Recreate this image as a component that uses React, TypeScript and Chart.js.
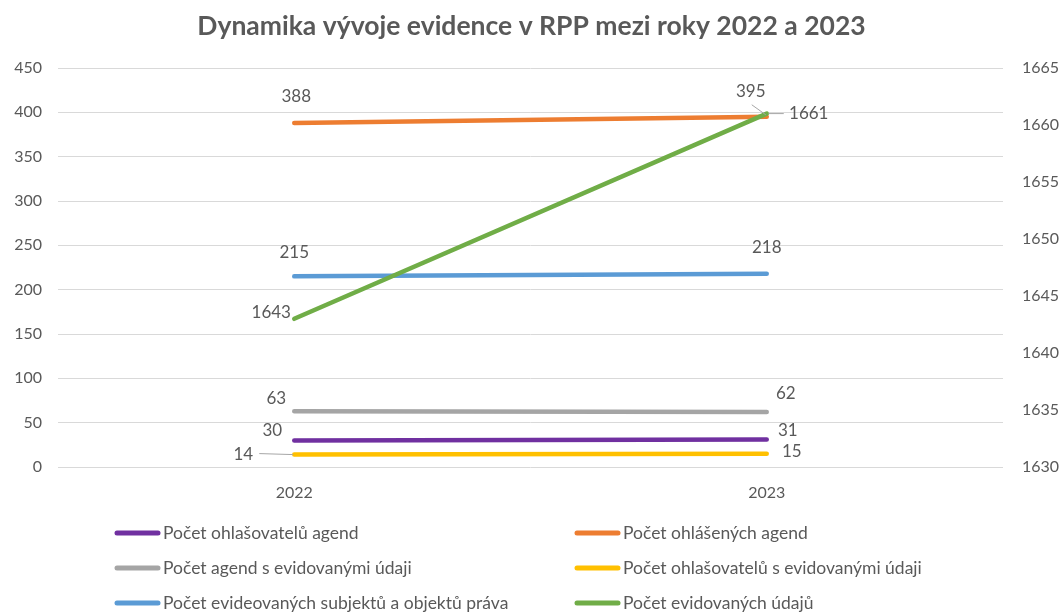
import React, { useEffect, useRef } from "react";
import { Chart, registerables } from "chart.js";

Chart.register(...registerables);

// ---------- data ----------
const categories = ["2022", "2023"];
const ohlasovateluAgend = [30, 31];
const ohlasenychAgend = [388, 395];
const agendSUdaji = [63, 62];
const ohlasovateluSUdaji = [14, 15];
const subjektuAObjektu = [215, 218];
const evidovanychUdaju = [1643, 1661];

const leftAxis = { min: 0, max: 450, step: 50 };
const rightAxis = { min: 1630, max: 1665, step: 5 };

const titleText = "Dynamika vývoje evidence v RPP mezi roky 2022 a 2023";

// ---------- styles ----------
const FONT = "Lato, 'Open Sans', sans-serif";
const TEXT = "#595959";

type LabelPos = { dx: number; dy: number; leader?: [number, number, number, number] };

const series = [
  { label: "Počet ohlašovatelů agend", data: ohlasovateluAgend, color: "#7030A0", axis: "y",
    labels: [{ dx: -22, dy: -10 }, { dx: 21, dy: -9 }] as LabelPos[] },
  { label: "Počet ohlášených agend", data: ohlasenychAgend, color: "#ED7D31", axis: "y",
    labels: [{ dx: 2, dy: -26 }, { dx: -16, dy: -25, leader: [-15, -12, -1, -2] }] as LabelPos[] },
  { label: "Počet agend s evidovanými údaji", data: agendSUdaji, color: "#A5A5A5", axis: "y",
    labels: [{ dx: -18, dy: -13 }, { dx: 19, dy: -19 }] as LabelPos[] },
  { label: "Počet ohlašovatelů s evidovanými údaji", data: ohlasovateluSUdaji, color: "#FFC000", axis: "y",
    labels: [{ dx: -51, dy: 0, leader: [-35, -1, -1, 0] }, { dx: 25, dy: -2 }] as LabelPos[] },
  { label: "Počet evideovaných subjektů a objektů práva", data: subjektuAObjektu, color: "#5B9BD5", axis: "y",
    labels: [{ dx: 0, dy: -24 }, { dx: 0, dy: -26 }] as LabelPos[] },
  { label: "Počet evidovaných údajů", data: evidovanychUdaju, color: "#70AD47", axis: "y1",
    labels: [{ dx: -23, dy: -6 }, { dx: 42, dy: 0, leader: [2, 0, 17, 0] }] as LabelPos[] },
];

// legend grid order: [row][col] -> series index
const legendGrid = [
  [0, 1],
  [2, 3],
  [4, 5],
];

const titlePlugin = {
  id: "customTitle",
  afterDraw(chart: any) {
    const ctx = chart.ctx;
    ctx.save();
    ctx.fillStyle = TEXT;
    ctx.font = `bold 26.5px ${FONT}`;
    ctx.textAlign = "center";
    ctx.textBaseline = "middle";
    ctx.fillText(titleText, chart.width / 2, 26);
    ctx.restore();
  },
};

const dataLabelPlugin = {
  id: "dataLabels",
  afterDatasetsDraw(chart: any) {
    const ctx = chart.ctx;
    ctx.save();
    ctx.font = `17px ${FONT}`;
    ctx.fillStyle = TEXT;
    ctx.textAlign = "center";
    ctx.textBaseline = "middle";
    chart.data.datasets.forEach((ds: any, di: number) => {
      const meta = chart.getDatasetMeta(di);
      meta.data.forEach((pt: any, i: number) => {
        const o = series[di].labels[i];
        if (o.leader) {
          ctx.beginPath();
          ctx.strokeStyle = "#A6A6A6";
          ctx.lineWidth = 1;
          ctx.moveTo(pt.x + o.leader[0], pt.y + o.leader[1]);
          ctx.lineTo(pt.x + o.leader[2], pt.y + o.leader[3]);
          ctx.stroke();
        }
        ctx.fillText(String(ds.data[i]), pt.x + o.dx, pt.y + o.dy);
      });
    });
    ctx.restore();
  },
};

const legendPlugin = {
  id: "gridLegend",
  afterDraw(chart: any) {
    const ctx = chart.ctx;
    const rowsY = [533, 568, 603];
    const colsX = [115, 575];
    const lineLen = 45;
    ctx.save();
    ctx.font = `17.5px ${FONT}`;
    ctx.textAlign = "left";
    ctx.textBaseline = "middle";
    legendGrid.forEach((row, r) => {
      row.forEach((si, c) => {
        const s = series[si];
        const x = colsX[c];
        const y = rowsY[r];
        ctx.beginPath();
        ctx.strokeStyle = s.color;
        ctx.lineWidth = 5;
        ctx.lineCap = "round";
        ctx.moveTo(x + 2, y);
        ctx.lineTo(x + lineLen - 2, y);
        ctx.stroke();
        ctx.fillStyle = TEXT;
        ctx.fillText(s.label, x + lineLen + 3, y);
      });
    });
    ctx.restore();
  },
};

export default function App() {
  const canvasRef = useRef<HTMLCanvasElement | null>(null);

  useEffect(() => {
    const canvas = canvasRef.current;
    if (!canvas) return;
    const chart = new Chart(canvas, {
      type: "line",
      data: {
        labels: categories,
        datasets: series.map((s) => ({
          label: s.label,
          data: s.data,
          borderColor: s.color,
          backgroundColor: s.color,
          borderWidth: 4.5,
          borderCapStyle: "round",
          borderJoinStyle: "round",
          pointRadius: 0,
          pointHoverRadius: 0,
          fill: false,
          tension: 0,
          yAxisID: s.axis,
          order: s.axis === "y1" ? 0 : 1,
        })),
      },
      options: {
        responsive: false,
        animation: false,
        events: [],
        layout: { padding: { top: 68, bottom: 105, left: 0, right: 0 } },
        plugins: {
          legend: { display: false },
          title: { display: false },
          tooltip: { enabled: false },
        },
        scales: {
          x: {
            type: "category",
            offset: true,
            grid: { display: false, drawTicks: false },
            border: { display: false },
            ticks: { color: TEXT, font: { family: FONT, size: 16 }, padding: 16 },
            afterFit: (scale: any) => { scale.height = 40; },
          },
          y: {
            position: "left",
            min: leftAxis.min,
            max: leftAxis.max,
            ticks: {
              stepSize: leftAxis.step, color: TEXT, font: { family: FONT, size: 16 }, padding: 16,
              callback: (v: any) => String(v),
            },
            grid: { color: "#D9D9D9", lineWidth: 1, drawTicks: false },
            border: { display: false },
            afterFit: (scale: any) => { scale.width = 58; },
          },
          y1: {
            position: "right",
            min: rightAxis.min,
            max: rightAxis.max,
            ticks: {
              stepSize: rightAxis.step, color: TEXT, font: { family: FONT, size: 16 }, padding: 19,
              callback: (v: any) => String(v),
            },
            grid: { display: false, drawTicks: false },
            border: { display: false },
            afterFit: (scale: any) => { scale.width = 60; },
          },
        },
      },
      plugins: [titlePlugin, dataLabelPlugin, legendPlugin],
    } as any);
    return () => chart.destroy();
  }, []);

  return (
    <div style={{ position: "absolute", left: 0, top: 0, width: 1063, height: 612, background: "#fff" }}>
      <canvas ref={canvasRef} width={1063} height={612} style={{ display: "block" }} />
    </div>
  );
}
